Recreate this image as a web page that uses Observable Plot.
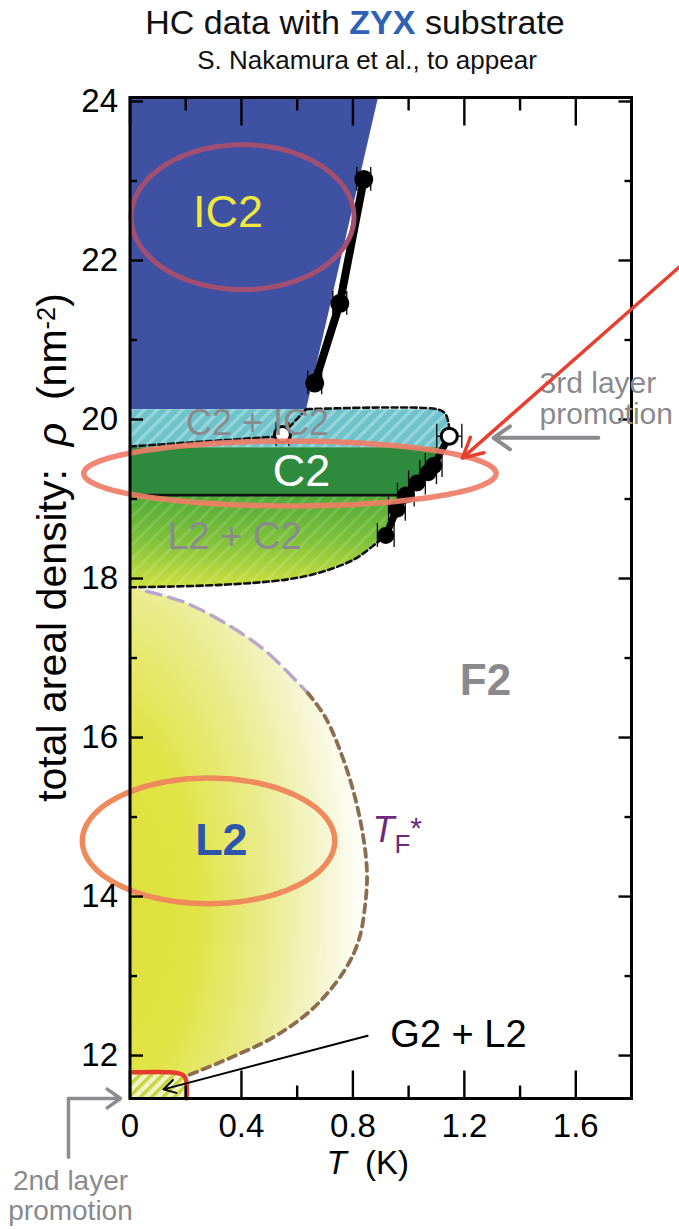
<!DOCTYPE html>
<html>
<head>
<meta charset="utf-8">
<script src="https://cdn.jsdelivr.net/npm/d3@7"></script>
<script src="https://cdn.jsdelivr.net/npm/@observablehq/plot@0.6"></script>
<style>
  html, body { margin: 0; padding: 0; background: #fff; }
  body { font-family: "Liberation Sans", Arial, Helvetica, sans-serif; width: 679px; overflow: hidden; }
  #head, #chart svg { display: block; }
</style>
</head>
<body>
<svg id="head" width="679" height="80" font-family="Liberation Sans, Arial, Helvetica, sans-serif">
  <text x="355" y="34" text-anchor="middle" font-size="34" fill="#111">HC data with <tspan font-weight="bold" fill="#2f62b5">ZYX</tspan> substrate</text>
  <text x="367" y="69" text-anchor="middle" font-size="26" fill="#111">S. Nakamura et al., to appear</text>
</svg>
<div id="chart"></div>
<script>
const FONT = '"Liberation Sans", Arial, Helvetica, sans-serif';

// ---- axes --------------------------------------------------------------
const xDomain = [0, 1.8];            // T (K)
const yDomain = [11.46, 24.05];      // rho (nm^-2)
const xTickLabels = [0, 0.4, 0.8, 1.2, 1.6];
const xMinorTicks = [0.2, 0.6, 1.0, 1.4];
const yTickLabels = [12, 14, 16, 18, 20, 22, 24];
const yMinorTicks = [13, 15, 17, 19, 21, 23];
const xTitle = "T\u00a0\u00a0(K)";
const yTitle = "total areal density: \u03c1 (nm-2)";

// ---- measured points ---------------------------------------------------
// IC2 -> fluid transition
const ic2MeltT   = [0.663, 0.753, 0.839];
const ic2MeltRho = [20.46, 21.46, 23.02];
const ic2ErrT    = [0.025, 0.025, 0.025];
// C2 melting
const c2MeltT    = [0.918, 0.958, 0.99, 1.03, 1.07, 1.09];
const c2MeltRho  = [18.54, 18.87, 19.05, 19.2, 19.33, 19.42];
const c2ErrT     = [0.03, 0.03, 0.03, 0.03, 0.03, 0.03];
// open symbols
const openT      = [0.547, 1.146];
const openRho    = [19.81, 19.79];
const openErrT   = [0.023, 0.045];

// ---- phase regions and boundaries ([T, rho]) ---------------------------
const ic2Region   = [[0, 24.05], [0.89, 24.05], [0.632, 20.13], [0, 20.13]];
const mixIcRegion = [[0, 20.13], [1.10, 20.13], [1.13, 20.08], [1.143, 19.96], [1.146, 19.79], [1.125, 19.65], [0, 19.65]];
const c2Region    = [[0, 19.65], [1.125, 19.65], [1.09, 19.42], [1.07, 19.33], [1.03, 19.2], [0.99, 19.05], [0, 19.05]];
const mixL2Region = [[0, 19.05], [0.99, 19.05], [0.958, 18.87], [0.918, 18.54], [0.89, 18.46], [0.804, 18.24],
                     [0.685, 18.08], [0.567, 17.99], [0.326, 17.92], [0, 17.89]];
const mixIcTop    = [[0.632, 20.13], [1.10, 20.13], [1.13, 20.08], [1.143, 19.96], [1.146, 19.79]];
const mixIcBottom = [[0, 19.66], [0.547, 19.79]];
const mixIcLeft   = [[0.547, 19.81], [0.632, 20.13]];
const mixL2Bottom = [[0, 17.89], [0.326, 17.92], [0.567, 17.99], [0.685, 18.08], [0.804, 18.24], [0.89, 18.46], [0.918, 18.54]];
const c2Floor     = [[0, 19.05], [0.99, 19.05]];
// degeneracy temperature T_F*
const tfUpper = [[0.059, 17.84], [0.189, 17.71], [0.336, 17.45], [0.483, 17.10], [0.638, 16.56]];
const tfLower = [[0.638, 16.56], [0.702, 16.25], [0.778, 15.60], [0.827, 14.95], [0.850, 14.35], [0.846, 13.96],
                 [0.821, 13.45], [0.768, 13.06], [0.656, 12.59], [0.519, 12.24], [0.372, 11.99], [0.250, 11.81], [0.199, 11.74]];
const domeRegion = [[0, 17.86], ...tfUpper, ...tfLower.slice(1), [0.199, 11.46], [0, 11.46]];
// gas + liquid coexistence
const g2Edge   = [[0.012, 11.79], [0.145, 11.79], [0.175, 11.775], [0.195, 11.74], [0.202, 11.68], [0.203, 11.46]];
const g2Region = [[0, 11.46], [0, 11.79], ...g2Edge.slice(1)];

// ---- highlighted ovals: centre and half-axes ---------------------------
const ovalCentres = [[0.404, 22.545], [0.574, 19.32], [0.282, 14.70]];
const ovalRadii   = [[0.400, 0.911], [0.740, 0.408], [0.453, 0.79]];

// ---- annotation text ---------------------------------------------------
const phaseNames = ["IC2", "C2 + IC2", "C2", "L2 + C2", "F2", "L2", "G2 + L2"];
const phaseT     = [0.352, 0.458, 0.616, 0.375, 1.276, 0.328, 1.179];
const phaseRho   = [22.60, 19.95, 19.35, 18.53, 16.71, 14.70, 12.26];
const tfName     = "TF*";
const thirdLines = ["3rd layer", "promotion"];
const thirdRho   = [20.33, 19.94];
const secondLines = ["2nd layer", "promotion"];
const secondRho   = [10.31, 9.93];

// ---- helpers -------------------------------------------------------------
const px = d => d[0], py = d => d[1];
const pts = (T, R, E) => T.map((t, i) => ({T: t, rho: R[i], e: E ? E[i] : 0}));
const ic2Pts  = pts(ic2MeltT, ic2MeltRho, ic2ErrT);
const c2Pts   = pts(c2MeltT, c2MeltRho, c2ErrT);
const openPts = pts(openT, openRho, openErrT);
const c2Path  = [...c2Pts, openPts[1]];
const allErr  = [...ic2Pts, ...c2Pts, ...openPts];

function oval([cx, cy], [rx, ry]) {
  return d3.range(0, 360, 3).map(a => [cx + rx * Math.cos(a * Math.PI / 180), cy + ry * Math.sin(a * Math.PI / 180)]);
}
const shape = (dx, dy) => ({draw(ctx) { ctx.moveTo(0, 0); ctx.lineTo(dx, dy); }});
const area = (data, fill) => Plot.line(data, {x: px, y: py, fill, stroke: "none", curve: "linear-closed"});
const label = (i, o) => Plot.text([i], {x: j => phaseT[j], y: j => phaseRho[j], text: j => phaseNames[j], ...o});

const chart = Plot.plot({
  width: 679,
  height: 1149,
  marginTop: 17,
  marginBottom: 131,
  marginLeft: 129.5,
  marginRight: 48,
  x: {domain: xDomain},
  y: {domain: yDomain},
  style: {fontFamily: FONT, fontSize: "33px", background: "transparent", overflow: "visible", color: "#000"},
  marks: [
    // phase regions
    Plot.line(domeRegion, {x: px, y: py, fill: "url(#domeGlow)", stroke: "none", curve: "catmull-rom-closed", clip: true}),
    area(g2Region, "url(#hatchG2)"),
    area(ic2Region, "#3e51a3"),
    area(mixIcRegion, "url(#hatchCyan)"),
    area(c2Region, "#2e8b3e"),
    area(mixL2Region, "url(#meltGrad)"),
    area(mixL2Region, "url(#hatchSoft)"),

    // boundaries
    Plot.line(mixIcTop, {x: px, y: py, stroke: "#111", strokeWidth: 2.6, strokeDasharray: "6,3.5", curve: "catmull-rom"}),
    Plot.line(mixIcBottom, {x: px, y: py, stroke: "#111", strokeWidth: 2.6, strokeDasharray: "6,3.5"}),
    Plot.line(mixIcLeft, {x: px, y: py, stroke: "#111", strokeWidth: 2.6, strokeDasharray: "6,3.5"}),
    Plot.line(mixL2Bottom, {x: px, y: py, stroke: "#111", strokeWidth: 2.6, strokeDasharray: "6,3.5", curve: "catmull-rom"}),
    Plot.line(c2Floor, {x: px, y: py, stroke: "#111", strokeWidth: 2.8}),
    Plot.line(tfUpper, {x: px, y: py, stroke: "#bba5cc", strokeWidth: 3.4, strokeDasharray: "15,8", curve: "catmull-rom"}),
    Plot.line(tfLower, {x: px, y: py, stroke: "#8c6d4f", strokeWidth: 3.8, strokeDasharray: "8,6", curve: "catmull-rom"}),
    Plot.line(g2Edge, {x: px, y: py, stroke: "#e63b2a", strokeWidth: 4.5, curve: "catmull-rom"}),

    // transition lines through the measured points
    Plot.line(ic2Pts, {x: "T", y: "rho", stroke: "#000", strokeWidth: 8}),
    Plot.line(c2Path, {x: "T", y: "rho", stroke: "#000", strokeWidth: 7}),
    Plot.ruleY(allErr, {y: "rho", x1: d => d.T - d.e, x2: d => d.T + d.e, stroke: "#000", strokeWidth: 1.3}),
    Plot.ruleX(allErr, {x: d => d.T - d.e, y1: d => d.rho - 0.15, y2: d => d.rho + 0.15, stroke: "#000", strokeWidth: 1.3}),
    Plot.ruleX(allErr, {x: d => d.T + d.e, y1: d => d.rho - 0.15, y2: d => d.rho + 0.15, stroke: "#000", strokeWidth: 1.3}),
    Plot.dot(ic2Pts, {x: "T", y: "rho", r: 9.5, fill: "#000", stroke: "none"}),
    Plot.dot(c2Pts, {x: "T", y: "rho", r: 8.5, fill: "#000", stroke: "none"}),
    Plot.dot(openPts, {x: "T", y: "rho", r: 8, fill: "#fff", stroke: "#000", strokeWidth: 3}),

    // highlighted ovals
    Plot.line(oval(ovalCentres[0], ovalRadii[0]), {x: px, y: py, stroke: "#a24f72", strokeWidth: 5, curve: "catmull-rom-closed"}),
    Plot.line(oval(ovalCentres[1], ovalRadii[1]), {x: px, y: py, stroke: "#ef7d66", strokeOpacity: 0.92, strokeWidth: 5.5, curve: "catmull-rom-closed"}),
    Plot.line(oval(ovalCentres[2], ovalRadii[2]), {x: px, y: py, stroke: "#ef8a5c", strokeWidth: 5.5, curve: "catmull-rom-closed"}),

    // phase labels
    label(0, {fontSize: 45, fill: "#f0e83c"}),
    label(1, {fontSize: 36, fill: "#8a8a8e"}),
    label(2, {fontSize: 45, fill: "#fff"}),
    label(3, {fontSize: 38, fill: "#8a8a8e"}),
    label(4, {fontSize: 44, fill: "#8a8a8e", fontWeight: "bold"}),
    label(5, {fontSize: 45, fill: "#2d55aa", fontWeight: "bold"}),
    label(6, {fontSize: 38, fill: "#000"}),
    Plot.text([tfName], {x: () => 0.870, y: () => 14.83, textAnchor: "start", fontSize: 36, fill: "#6b2a78"}),

    // frame, inward ticks and tick labels
    Plot.frame({stroke: "#000", strokeWidth: 3}),
    Plot.dot(xTickLabels, {x: d => d, frameAnchor: "bottom", symbol: shape(0, -28), r: 4, fill: "none", stroke: "#000", strokeWidth: 2.4}),
    Plot.dot(xMinorTicks, {x: d => d, frameAnchor: "bottom", symbol: shape(0, -13), r: 4, fill: "none", stroke: "#000", strokeWidth: 2.4}),
    Plot.dot(xTickLabels, {x: d => d, frameAnchor: "top", symbol: shape(0, 28), r: 4, fill: "none", stroke: "#000", strokeWidth: 2.4}),
    Plot.dot(xMinorTicks, {x: d => d, frameAnchor: "top", symbol: shape(0, 13), r: 4, fill: "none", stroke: "#000", strokeWidth: 2.4}),
    Plot.dot(yTickLabels, {y: d => d, frameAnchor: "left", symbol: shape(13, 0), r: 4, fill: "none", stroke: "#000", strokeWidth: 2.4}),
    Plot.dot(yMinorTicks, {y: d => d, frameAnchor: "left", symbol: shape(7, 0), r: 4, fill: "none", stroke: "#000", strokeWidth: 2.4}),
    Plot.dot(yTickLabels, {y: d => d, frameAnchor: "right", symbol: shape(-13, 0), r: 4, fill: "none", stroke: "#000", strokeWidth: 2.4}),
    Plot.dot(yMinorTicks, {y: d => d, frameAnchor: "right", symbol: shape(-7, 0), r: 4, fill: "none", stroke: "#000", strokeWidth: 2.4}),
    Plot.axisX({ticks: xTickLabels, tickSize: 0, tickPadding: 15, fontSize: 33, tickFormat: d => String(d), label: null}),
    Plot.axisY({ticks: yTickLabels, tickSize: 0, tickPadding: 12, fontSize: 33, label: null}),
    Plot.text([xTitle], {x: () => 0.853, frameAnchor: "bottom", dy: 65, textAnchor: "middle", lineAnchor: "middle", fontSize: 33}),
    Plot.text([yTitle], {y: () => 18.39, frameAnchor: "left", dx: -77, rotate: -90, textAnchor: "middle", lineAnchor: "middle", fontSize: 41}),

    // layer-promotion notes and pointers
    Plot.text(thirdLines, {x: () => 1.47, y: (d, i) => thirdRho[i], textAnchor: "start", lineAnchor: "bottom", fontSize: 30, fill: "#8a8a8e"}),
    Plot.arrow([0], {x1: () => 1.681, x2: () => 1.305, y1: () => 19.77, y2: () => 19.77, stroke: "#8c8c90", strokeWidth: 4, headLength: 7.5, headAngle: 70}),
    Plot.arrow([0], {x1: () => 1.998, y1: () => 22.0, x2: () => 1.193, y2: () => 19.515, stroke: "#e8402e", strokeWidth: 3.5, headLength: 9.5, headAngle: 55}),
    Plot.arrow([0], {x1: () => 0.853, y1: () => 12.25, x2: () => 0.12, y2: () => 11.575, stroke: "#000", strokeWidth: 2, headLength: 10, headAngle: 60}),
    Plot.line([[-0.2207, 10.72], [-0.2207, 11.46]], {x: px, y: py, stroke: "#8c8c90", strokeWidth: 3.5}),
    Plot.arrow([0], {x1: () => -0.2207, y1: () => 11.46, x2: () => -0.034, y2: () => 11.46, stroke: "#8c8c90", strokeWidth: 3.5, headLength: 7, headAngle: 70}),
    Plot.text(secondLines, {x: () => -0.2136, y: (d, i) => secondRho[i], lineAnchor: "bottom", fontSize: 28, fill: "#8a8a8e"})
  ]
});

// gradients and hatch patterns used by the regions
d3.select(chart).insert("defs", ":first-child").html(`
  <radialGradient id="domeGlow" cx="0" cy="0.62" r="1" fx="0" fy="0.62">
    <stop offset="0" stop-color="#dbe03a"/>
    <stop offset="0.35" stop-color="#e0e445"/>
    <stop offset="0.6" stop-color="#e9eb88"/>
    <stop offset="0.85" stop-color="#f5f6d2"/>
    <stop offset="1" stop-color="#ffffff"/>
  </radialGradient>
  <linearGradient id="meltGrad" x1="0" y1="0" x2="0" y2="1">
    <stop offset="0" stop-color="#4fab36"/>
    <stop offset="0.5" stop-color="#7fc23a"/>
    <stop offset="1" stop-color="#cfe03e"/>
  </linearGradient>
  <pattern id="hatchCyan" patternUnits="userSpaceOnUse" width="9" height="9" patternTransform="rotate(45)">
    <rect width="9" height="9" fill="#6ec3cb"/>
    <rect width="3.2" height="9" fill="#98d5da"/>
  </pattern>
  <pattern id="hatchSoft" patternUnits="userSpaceOnUse" width="10" height="10" patternTransform="rotate(45)">
    <rect width="3" height="10" fill="#ffffff" fill-opacity="0.13"/>
  </pattern>
  <pattern id="hatchG2" patternUnits="userSpaceOnUse" width="8" height="8" patternTransform="rotate(45)">
    <rect width="8" height="8" fill="#f1f3c8"/>
    <rect width="3.5" height="8" fill="#c6d43c"/>
  </pattern>
`);

// rich text: italic symbols, subscripts and superscripts
function richText(plain, markup) {
  d3.select(chart).selectAll("text")
    .filter(function () { return this.textContent === plain; })
    .each(function () { this.innerHTML = markup; });
}
richText(yTitle, 'total areal density:\u00a0 <tspan font-style="italic">\u03c1</tspan>\u00a0 (nm<tspan dy="-0.45em" font-size="0.62em">-2</tspan><tspan dy="0.28em">)</tspan>');
richText(xTitle, '<tspan font-style="italic">T</tspan>\u00a0\u00a0(K)');
richText(tfName, '<tspan font-style="italic">T</tspan><tspan font-size="26" dy="11">F</tspan><tspan font-size="30" dy="-15">*</tspan>');

document.getElementById("chart").append(chart);
</script>
</body>
</html>
